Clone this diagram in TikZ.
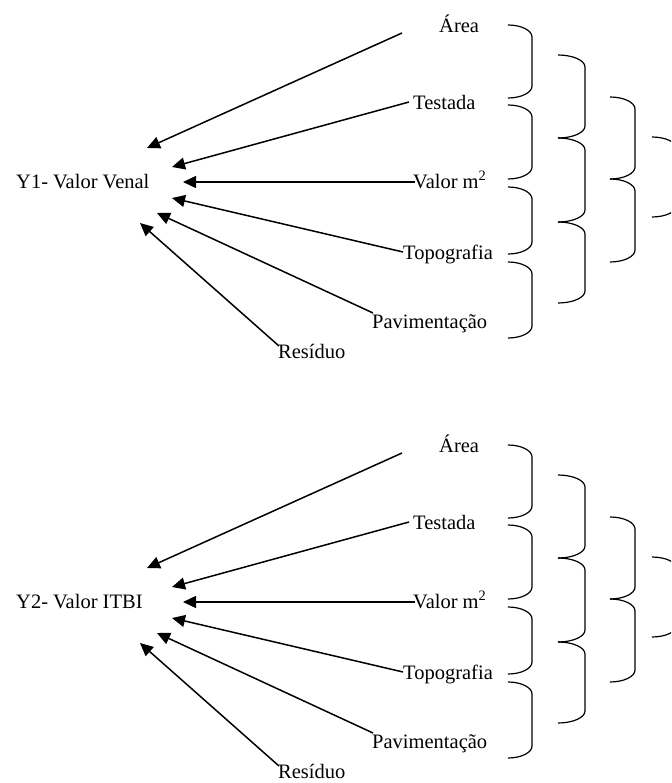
\documentclass[tikz,border=0pt]{standalone}
\usepackage{fontspec}
\setmainfont{Liberation Serif}
\usetikzlibrary{arrows.meta}
\tikzset{
  lbl/.style={anchor=base west, inner sep=0pt, font=\fontsize{20.5}{24}\selectfont},
  conn/.style={line width=1.5pt, -{Triangle[length=13pt,width=12pt]}},
  bracketline/.style={line width=1.2pt},
}
% #1 = left x, #2 = top y, #3 = bottom y, #4 = right x
\newcommand\rbracket[4]{%
  \draw[bracketline] (#1,#2) .. controls ({#1+0.55*(#4-#1)},#2) and (#4,{#2+5.4}) .. (#4,{#2+12})
    -- (#4,{#3-12}) .. controls (#4,{#3-5.4}) and ({#1+0.55*(#4-#1)},#3) .. (#1,#3);}
\begin{document}
\begin{tikzpicture}[x=1pt,y=-1pt]
\useasboundingbox (0,0) rectangle (671,783);
\clip (0,0) rectangle (671,783);
\foreach \p/\off/\lab in {a/0/{Y1- Valor Venal}, b/420/{Y2- Valor ITBI}} {
  \begin{scope}[yshift=-\off pt]
    % labels
    \node[lbl] (\p-y)    at (16,188.5)  {\lab};
    \node[lbl] (\p-area) at (439,32.5)  {Área};
    \node[lbl] (\p-test) at (413,109.5) {Testada};
    \node[lbl] (\p-val)  at (413,188.5) {Valor m\textsuperscript{2}};
    \node[lbl] (\p-topo) at (403,259.5) {Topografia};
    \node[lbl] (\p-pav)  at (372,328.5) {Pavimentação};
    \node[lbl] (\p-res)  at (278,358.5) {Resíduo};
    % connector ends
    \coordinate (\p-s1) at (402,33);  \coordinate (\p-t1) at (147,148);
    \coordinate (\p-s2) at (409,102); \coordinate (\p-t2) at (172,167);
    \coordinate (\p-s3) at (415,182); \coordinate (\p-t3) at (183,182);
    \coordinate (\p-s4) at (403,252); \coordinate (\p-t4) at (172,198);
    \coordinate (\p-s5) at (373,313); \coordinate (\p-t5) at (157,213);
    \coordinate (\p-s6) at (279,346); \coordinate (\p-t6) at (140,223);
    \draw[conn] (\p-s1) -- (\p-t1);
    \draw[conn] (\p-s2) -- (\p-t2);
    \draw[conn] (\p-s3) -- (\p-t3);
    \draw[conn] (\p-s4) -- (\p-t4);
    \draw[conn] (\p-s5) -- (\p-t5);
    \draw[conn] (\p-s6) -- (\p-t6);
    % brackets, first column
    \rbracket{508}{25}{98}{532}
    \rbracket{508}{105}{179}{532}
    \rbracket{508}{187}{254}{532}
    \rbracket{508}{262}{338}{532}
    % second column
    \rbracket{558}{55}{138}{585}
    \rbracket{558}{138}{222}{585}
    \rbracket{558}{222}{303}{585}
    % third column
    \rbracket{610}{97}{179}{635}
    \rbracket{610}{179}{262}{635}
    % fourth column (cut by the edge)
    \rbracket{652}{137}{217}{677}
  \end{scope}
}
\end{tikzpicture}
\end{document}
